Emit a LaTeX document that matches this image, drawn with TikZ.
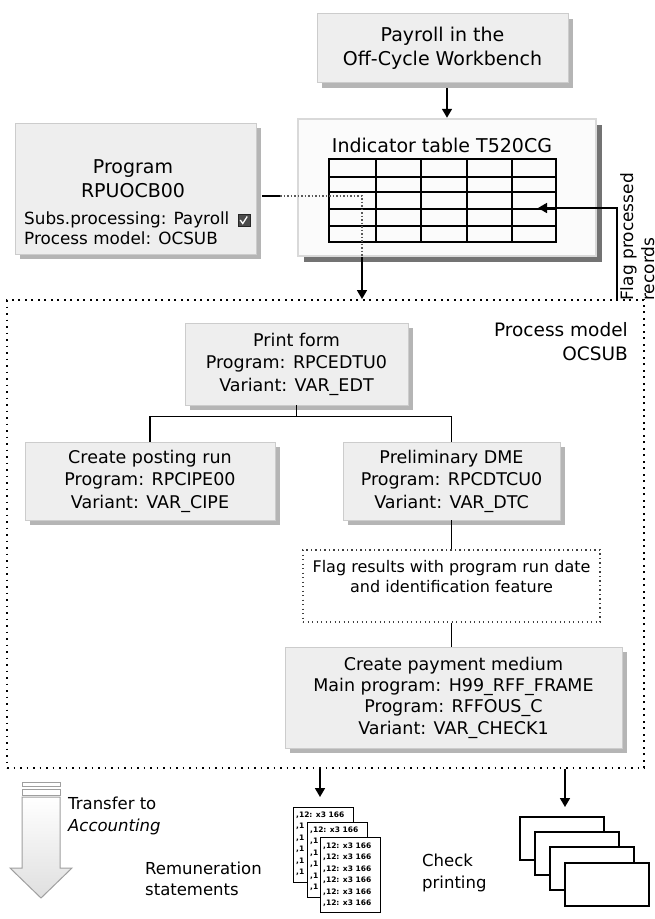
\documentclass[tikz,border=0pt]{standalone}
\usepackage{fontspec}
\setmainfont{DejaVu Sans}
\usetikzlibrary{arrows.meta,shadows}

\newcommand\ftbig{\fontsize{19}{24}\selectfont}
\newcommand\ftbox{\fontsize{17.5}{22.5}\selectfont}
\newcommand\ftnote{\fontsize{16}{20}\selectfont}
\newcommand\ftsub{\fontsize{16.8}{18}\selectfont}
\newcommand\ftlbl{\fontsize{16.5}{21.5}\selectfont}
\newcommand\ftscr{\fontsize{7.5}{9}\selectfont\bfseries}

\tikzset{
  gbox/.style={draw=gray!40, line width=0.8pt, fill=gray!13, inner sep=0pt,
    align=center, font=\ftbox,
    drop shadow={shadow xshift=5pt, shadow yshift=-5pt, fill=gray!58, opacity=1}},
  arr/.style={line width=1.7pt, -{Triangle[width=10pt,length=9pt]}},
  link/.style={line width=1.2pt},
  procframe/.style={draw, line width=1.9pt, dash pattern=on 1.9pt off 4.6pt, inner sep=0pt},
  finebox/.style={draw=black!75, line width=1.1pt, dash pattern=on 1.1pt off 3.4pt,
    fill=white, inner sep=0pt},
  txt/.style={inner sep=0pt},
  dotlink/.style={draw=black!65, line width=1.5pt, dash pattern=on 1.5pt off 2pt},
  page/.style={draw, line width=1pt, fill=white},
  chequeform/.style={draw, line width=1.2pt, fill=white},
}

\begin{document}
\begin{tikzpicture}[x=1pt, y=-1pt]
\useasboundingbox (0,0) rectangle (655,919);

% ---------- top: workbench, indicator table, report program ----------
\node[gbox, font=\ftbig, minimum width=251, minimum height=69] (payroll)
  at (442.5,48) {Payroll in the\\Off-Cycle Workbench};

\node[draw=gray!30, line width=2.5pt, fill=gray!3, minimum width=298,
  minimum height=137, inner sep=0pt,
  drop shadow={shadow xshift=6pt, shadow yshift=-6pt, fill=black!55, opacity=1}]
  (indbox) at (447,187.5) {};
\node[txt, font=\ftbig] (indtitle) at (442,145) {Indicator table T520CG};

% table grid
\foreach \x in {376,421,467,512} \draw[line width=1.3pt] (\x,159) -- (\x,242);
\foreach \y in {192,209,226} \draw[line width=1.3pt] (329,\y) -- (556,\y);
\draw[line width=1.5pt] (329,177) rectangle (556,242);
\draw[line width=2.4pt] (329,159) rectangle (556,177);

\node[gbox, minimum width=241, minimum height=131] (prog) at (135.5,188.5) {};
\node[txt, font=\ftbig, align=center] (progtitle) at (133,179) {Program\\RPUOCB00};
\node[txt, anchor=west, font=\ftsub] (progsub) at (24,220) {Subs.processing: Payroll};
\node[txt, anchor=west, font=\ftsub] (progmodel) at (24,238) {Process model: OCSUB};
\node[fill=black!70, draw=black!85, minimum size=12pt, inner sep=0pt, anchor=west]
  (chk) at ([xshift=8pt]progsub.east) {};
\draw[white, line width=1.3pt] ([xshift=-3.5pt]chk.center) -- ++(2.5,3.5) -- ++(4.5,-7);

% ---------- process model frame ----------
\node[procframe, minimum width=637, minimum height=468] (proc) at (325.5,534) {};
\node[txt, anchor=east, align=right, font=\fontsize{18.5}{24}\selectfont] (proclbl)
  at (628,342) {Process model\\OCSUB};

\node[gbox, minimum width=223, minimum height=82] (print) at (296.5,364)
  {Print form\\Program: RPCEDTU0\\Variant: VAR\_EDT};
\node[gbox, minimum width=250, minimum height=78] (posting) at (150,481)
  {Create posting run\\Program: RPCIPE00\\Variant: VAR\_CIPE};
\node[gbox, minimum width=217, minimum height=78] (dme) at (451.5,481)
  {Preliminary DME\\Program: RPCDTCU0\\Variant: VAR\_DTC};
\node[finebox, minimum width=297, minimum height=72] (flagres) at (451.5,586) {};
\node[txt, align=center, font=\ftnote] (flagtxt) at (451.5,577)
  {Flag results with program run date\\and identification feature};
\node[gbox, minimum width=337, minimum height=101,
  font=\fontsize{17.5}{21.3}\selectfont] (payment) at (453.5,697.5)
  {Create payment medium\\Main program: H99\_RFF\_FRAME\\Program: RFFOUS\_C\\Variant: VAR\_CHECK1};

% ---------- connectors ----------
\draw[arr] ([yshift=-5pt]payroll.south -| indbox.north) -- (indbox.north);

\coordinate (ls) at (262,196);
\coordinate (lm) at (280,196);
\coordinate (lc) at (362,196);
\coordinate (ld) at (362,257);
\draw[line width=2.2pt] (ls) -- (lm);
\draw[dotlink] (lm) -- (lc) -- (ld);
\draw[arr] (ld) -- (lc |- proc.north);

\coordinate (flagtip) at (538,208);
\coordinate (flagturn) at (617,208);
\draw[arr] (proc.north -| flagturn) -- (flagturn) -- (flagtip);
\node[txt, rotate=90, anchor=north west, align=left,
  font=\fontsize{17}{21}\selectfont] (flaglbl) at (620,301) {Flag processed\\records};

\coordinate (fork) at ([yshift=-11pt]print.south);
\draw[link] (print.south) -- (fork) -| (posting.north);
\draw[link] (fork) -| (dme.north);
\draw[link] (dme.south) -- (flagres.north);
\draw[link] (flagres.south) -- (flagres.south |- payment.north);

\coordinate (out1) at (320,797);
\coordinate (out2) at (565,807);
\draw[arr] (proc.south -| out1) -- (out1);
\draw[arr] (proc.south -| out2) -- (out2);

% ---------- outputs ----------
% transfer to accounting
\draw[draw=gray!75, line width=1pt, top color=white, bottom color=gray!25]
  (22,797) -- (60,797) -- (60,868) -- (72,868) -- (41,898) -- (10,868) -- (22,868) -- cycle;
\draw[draw=gray!75, line width=1pt, fill=white] (22,782) rectangle (60,786);
\draw[draw=gray!75, line width=1pt, fill=white] (22,789) rectangle (60,795);
\node[txt, anchor=west, align=left, font=\ftlbl] (acclbl) at (68,816)
  {Transfer to\\\itshape Accounting};

% remuneration statements: stacked printed forms
\node[txt, anchor=west, align=left, font=\ftlbl] (remlbl) at (145,879)
  {Remuneration\\statements};
\foreach \p/\px/\py in {1/293/807, 2/307/822}{
  \draw[page] (\px,\py) rectangle ++(60,75);
  \node[txt, anchor=west, font=\ftscr] (scr\p0) at (\px+3,\py+8) {,12: x3 166};
  \foreach \k in {1,...,5}
    \node[txt, anchor=west, font=\ftscr] (scr\p\k) at (\px+3,\py+8+\k*11.5) {,1};
}
\draw[page] (320,837) rectangle ++(60,75);
\foreach \k in {0,...,5}
  \node[txt, anchor=west, font=\ftscr] (scr3\k) at (323,846+\k*11.5) {,12: x3 166};

% check printing: stacked cheque forms
\node[txt, anchor=west, align=left, font=\ftlbl] (chklbl) at (422,873)
  {Check\\printing};
\foreach \cx/\cy in {520/817, 535/832, 550/847, 565/863}
  \draw[chequeform] (\cx,\cy) rectangle ++(84,43);

\end{tikzpicture}
\end{document}
